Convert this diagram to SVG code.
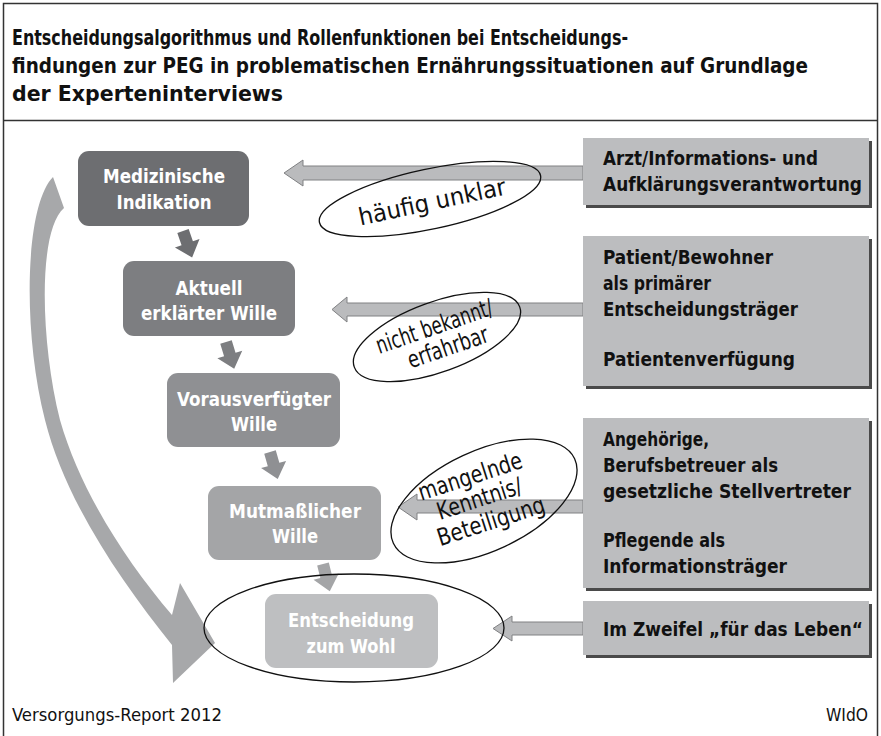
<svg xmlns="http://www.w3.org/2000/svg" width="881" height="736" viewBox="0 0 881 736">
<defs>
<style>
.t{font-family:"Liberation Sans Narrow","DejaVu Sans Condensed","DejaVu Sans",sans-serif;font-stretch:condensed}
.b{font-weight:bold}
.title{font-size:21.5px;fill:#111}
.bx{font-size:19.5px;fill:#111;font-weight:bold}
.nd{font-size:20px;fill:#fff;font-weight:bold;text-anchor:middle}
.lb{font-size:24px;fill:#111;text-anchor:middle}
.ft{font-size:18px;fill:#111}
.box{fill:#bcbdbf}
.sh{fill:#4a4a4a}
.harrow{fill:#babbbd;stroke:#808183;stroke-width:1}
.ell{fill:none;stroke:#111;stroke-width:1.3}
</style>
<path id="da" d="M-6,0 L6,0 L6,13 L13,13 L0,28 L-13,13 L-6,13 Z"/>
</defs>
<rect x="3.5" y="3.5" width="874" height="745" fill="#fff" stroke="#333" stroke-width="1.5"/>
<line x1="3.5" y1="120.5" x2="877.5" y2="120.5" stroke="#333" stroke-width="1.5"/>
<g id="title" class="t b title">
<text x="12" y="45" textLength="616" lengthAdjust="spacingAndGlyphs">Entscheidungsalgorithmus und Rollenfunktionen bei Entscheidungs-</text>
<text x="12" y="73" textLength="796" lengthAdjust="spacingAndGlyphs" style="font-size:21px">findungen zur PEG in problematischen Ernährungssituationen auf Grundlage</text>
<text x="12" y="101" textLength="271" lengthAdjust="spacingAndGlyphs">der Experteninterviews</text>
</g>
<g id="connectors">
<path d="M53,177 C25,205 22,330 45,420 C65,500 120,580 172,645 L173,683 L215,643 L180,583 L172,615 C125,560 80,490 60,420 C40,340 38,230 64,208 Z" fill="#a7a8aa"/>
<use href="#da" transform="translate(183,231) rotate(-19)" fill="#6d6e71"/>
<use href="#da" transform="translate(226,342) rotate(-17)" fill="#7d7e81"/>
<use href="#da" transform="translate(270,452) rotate(-16)" fill="#8f9093"/>
<use href="#da" transform="translate(323,564) rotate(-14)" fill="#a4a5a7"/>
<path class="harrow" d="M583,166 L303,166 L303,160 L284,173 L303,186 L303,180 L583,180 Z"/>
<path class="harrow" d="M583,303 L347,303 L347,297 L332,309.5 L347,322 L347,316 L583,316 Z"/>
<path class="harrow" d="M583,500 L417,500 L417,494 L398,507 L417,520 L417,513 L583,513 Z"/>
<path class="harrow" d="M583,622 L512,622 L512,616 L493,628.5 L512,641 L512,635 L583,635 Z"/>
</g>
<g id="node-indikation">
<rect x="78" y="151" width="171" height="75" rx="11" fill="#6d6e71"/>
<text class="t nd" x="164" y="183" textLength="122" lengthAdjust="spacingAndGlyphs">Medizinische</text>
<text class="t nd" x="164" y="209" textLength="95" lengthAdjust="spacingAndGlyphs">Indikation</text>
</g>
<g id="node-aktuell">
<rect x="123" y="261" width="172" height="75" rx="11" fill="#7d7e81"/>
<text class="t nd" x="209" y="295" textLength="67" lengthAdjust="spacingAndGlyphs">Aktuell</text>
<text class="t nd" x="209" y="320" textLength="136" lengthAdjust="spacingAndGlyphs">erklärter Wille</text>
</g>
<g id="node-voraus">
<rect x="167" y="373" width="173" height="74" rx="11" fill="#8f9093"/>
<text class="t nd" x="254" y="406" textLength="154" lengthAdjust="spacingAndGlyphs">Vorausverfügter</text>
<text class="t nd" x="254" y="431" textLength="46" lengthAdjust="spacingAndGlyphs">Wille</text>
</g>
<g id="node-mutmass">
<rect x="208" y="486" width="173" height="74" rx="11" fill="#a4a5a7"/>
<text class="t nd" x="295" y="518" textLength="132" lengthAdjust="spacingAndGlyphs">Mutmaßlicher</text>
<text class="t nd" x="295" y="543" textLength="46" lengthAdjust="spacingAndGlyphs">Wille</text>
</g>
<g id="node-entscheidung">
<rect x="265" y="594" width="173" height="74" rx="11" fill="#bebfc1"/>
<text class="t nd" x="351" y="627" textLength="126" lengthAdjust="spacingAndGlyphs">Entscheidung</text>
<text class="t nd" x="351" y="653" textLength="89" lengthAdjust="spacingAndGlyphs">zum Wohl</text>
</g>
<g id="box-arzt">
<rect class="sh" x="586" y="141" width="286" height="67"/>
<rect class="box" x="583" y="138" width="286" height="67"/>
<text class="t bx" x="603" y="165" textLength="215" lengthAdjust="spacingAndGlyphs">Arzt/Informations- und</text>
<text class="t bx" x="603" y="191" textLength="259" lengthAdjust="spacingAndGlyphs" style="font-size:19px">Aufklärungsverantwortung</text>
</g>
<g id="box-patient">
<rect class="sh" x="586" y="239" width="286" height="150"/>
<rect class="box" x="583" y="236" width="286" height="150"/>
<text class="t bx" x="603" y="264" textLength="170" lengthAdjust="spacingAndGlyphs">Patient/Bewohner</text>
<text class="t bx" x="603" y="290" textLength="108" lengthAdjust="spacingAndGlyphs">als primärer</text>
<text class="t bx" x="603" y="316" textLength="195" lengthAdjust="spacingAndGlyphs">Entscheidungsträger</text>
<text class="t bx" x="603" y="366" textLength="192" lengthAdjust="spacingAndGlyphs">Patientenverfügung</text>
</g>
<g id="box-angehoerige">
<rect class="sh" x="586" y="421" width="286" height="170"/>
<rect class="box" x="583" y="418" width="286" height="170"/>
<text class="t bx" x="603" y="446" textLength="106" lengthAdjust="spacingAndGlyphs">Angehörige,</text>
<text class="t bx" x="603" y="472" textLength="175" lengthAdjust="spacingAndGlyphs">Berufsbetreuer als</text>
<text class="t bx" x="603" y="498" textLength="248" lengthAdjust="spacingAndGlyphs">gesetzliche Stellvertreter</text>
<text class="t bx" x="603" y="547" textLength="122" lengthAdjust="spacingAndGlyphs">Pflegende als</text>
<text class="t bx" x="603" y="573" textLength="184" lengthAdjust="spacingAndGlyphs">Informationsträger</text>
</g>
<g id="box-zweifel">
<rect class="sh" x="586" y="604" width="286" height="54"/>
<rect class="box" x="583" y="601" width="286" height="54"/>
<text class="t bx" x="603" y="636" textLength="260" lengthAdjust="spacingAndGlyphs" style="font-size:19px">Im Zweifel „für das Leben“</text>
</g>
<g id="labels">
<ellipse class="ell" cx="430" cy="199" rx="113" ry="30" transform="rotate(-12 430 199)"/>
<text class="t lb" transform="translate(432,201) rotate(-12)" x="0" y="9" textLength="150" lengthAdjust="spacingAndGlyphs">häufig unklar</text>
<ellipse class="ell" cx="437" cy="337" rx="88" ry="35" transform="rotate(-20 437 337)"/>
<text class="t lb" transform="translate(438,337) rotate(-19)" x="0" y="-3" textLength="122" lengthAdjust="spacingAndGlyphs">nicht bekannt/</text>
<text class="t lb" transform="translate(438,337) rotate(-19)" x="6" y="21" textLength="84" lengthAdjust="spacingAndGlyphs">erfahrbar</text>
<ellipse class="ell" cx="484" cy="501" rx="100" ry="50" transform="rotate(-25 484 501)"/>
<text class="t lb" transform="translate(482,500) rotate(-18)" x="-4" y="-18" textLength="108" lengthAdjust="spacingAndGlyphs">mangelnde</text>
<text class="t lb" transform="translate(482,500) rotate(-18)" x="-2" y="6" textLength="88" lengthAdjust="spacingAndGlyphs">Kenntnis/</text>
<text class="t lb" transform="translate(482,500) rotate(-18)" x="2" y="31" textLength="112" lengthAdjust="spacingAndGlyphs">Beteiligung</text>
<ellipse class="ell" cx="354" cy="628" rx="150" ry="54"/>
</g>
<g id="footer" class="t ft">
<text x="12" y="721" textLength="210" lengthAdjust="spacingAndGlyphs">Versorgungs-Report 2012</text>
<text x="868" y="721" text-anchor="end" textLength="42" lengthAdjust="spacingAndGlyphs">WIdO</text>
</g>
</svg>
